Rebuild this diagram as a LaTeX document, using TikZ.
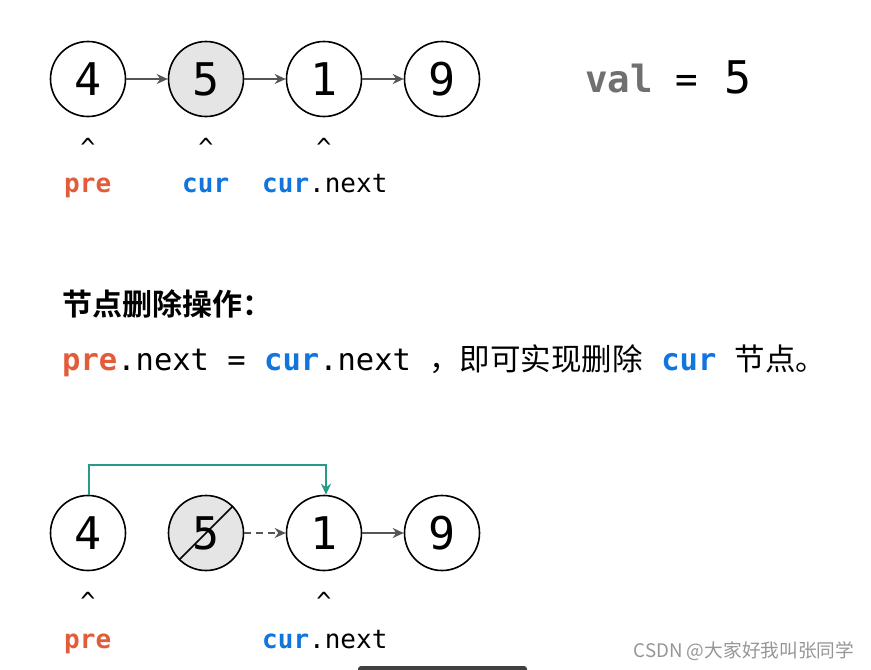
\documentclass[tikz,border=0pt]{standalone}
\usepackage{fontspec}
\setmainfont{DejaVu Sans}
\setmonofont{DejaVu Sans Mono}
\newfontfamily\cjk{Noto Sans CJK SC}
\newfontfamily\cjkb{Noto Sans CJK SC Bold}
\usetikzlibrary{arrows.meta}
\definecolor{prec}{RGB}{226,92,58}
\definecolor{curc}{RGB}{16,118,222}
\definecolor{valc}{RGB}{112,112,112}
\definecolor{nodefill}{RGB}{229,229,229}
\definecolor{arrc}{RGB}{85,85,85}
\definecolor{teal}{RGB}{40,154,136}
\definecolor{wm}{RGB}{150,150,150}
\tikzset{
  listnode/.style={circle, draw=black, line width=1.6pt, minimum size=75pt, inner sep=0pt, font=\ttfamily\fontsize{45}{45}\selectfont},
  link/.style={draw=arrc, line width=2.4pt, -{Stealth[length=11pt,width=10pt]}},
  caret/.style={font=\ttfamily\fontsize{25}{25}\selectfont, inner sep=0pt},
  lbl/.style={font=\ttfamily\fontsize{26}{26}\selectfont, inner sep=0pt, anchor=base west},
  line/.style={font=\ttfamily\fontsize{30.5}{30.5}\selectfont, inner sep=0pt, anchor=base west},
}
\newcommand{\pre}{\textcolor{prec}{\bfseries pre}}
\newcommand{\cur}{\textcolor{curc}{\bfseries cur}}
\begin{document}
\begin{tikzpicture}[x=1pt,y=-1pt]
\useasboundingbox (0,0) rectangle (871,670);
% top list
\node[listnode] (a4) at (88,79) {4};
\node[listnode, fill=nodefill] (a5) at (206,79) {5};
\node[listnode] (a1) at (324,79) {1};
\node[listnode] (a9) at (442,79) {9};
\draw[link] (a4) -- (a5);
\draw[link] (a5) -- (a1);
\draw[link] (a1) -- (a9);
\node[caret] (c1) at (88,147) {\^{}};
\node[caret] (c2) at (206,147) {\^{}};
\node[caret] (c3) at (324,147) {\^{}};
\node[lbl] (l1) at (64,192) {\pre};
\node[lbl] (l2) at (182,192) {\cur};
\node[lbl] (l3) at (262,192) {\cur.next};
\node[inner sep=0pt, anchor=base west] (val) at (585,92) {\ttfamily\fontsize{37.5}{37.5}\selectfont\textcolor{valc}{\bfseries val} =};
\node[inner sep=0pt, anchor=base west] (five) at (724,93) {\ttfamily\fontsize{45}{45}\selectfont 5};
% text
\node[inner sep=0pt, anchor=base west] (h) at (62,315) {\cjkb\fontsize{30}{30}\selectfont 节点删除操作：};
\node[line] (t) at (62,370) {\pre.next = \cur.next {\cjk，即可实现删除} \cur{} {\cjk 节点。}};
% bottom list
\node[listnode] (b4) at (88,533) {4};
\node[listnode, fill=nodefill] (b5) at (206,533) {5};
\node[listnode] (b1) at (324,533) {1};
\node[listnode] (b9) at (442,533) {9};
\draw[black, line width=1.6pt] (b5.-135) -- (b5.45);
\draw[link, dashed, dash pattern=on 7pt off 5pt] (b5) -- (b1);
\draw[link] (b1) -- (b9);
\coordinate (k1) at (89,465);
\coordinate (k2) at (326,465);
\draw[teal, line width=2.4pt, -{Stealth[length=11pt,width=10pt]}] (b4.north -| k1) -- (k1) -- (k2) -- (b1.north -| k2);
\node[caret] (d1) at (88,601) {\^{}};
\node[caret] (d3) at (324,601) {\^{}};
\node[lbl] (m1) at (64,648) {\pre};
\node[lbl] (m3) at (262,648) {\cur.next};
% watermark
\node[inner sep=0pt, text=wm, font=\cjk\fontsize{18.7}{18.7}\selectfont] (w) at (744,651) {CSDN @大家好我叫张同学};
\fill[black!75, rounded corners=3pt] (358,666) rectangle (527,676);
\end{tikzpicture}
\end{document}
